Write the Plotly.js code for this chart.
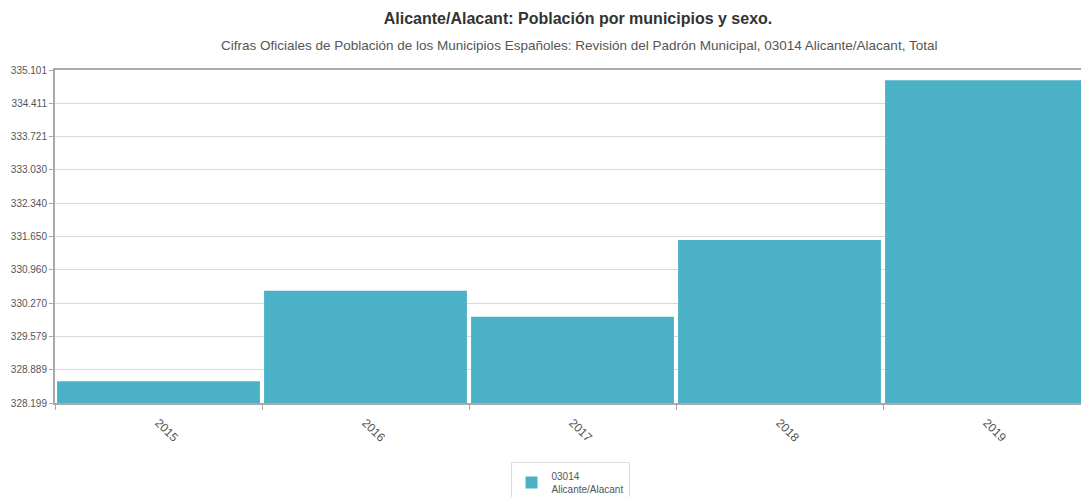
<!DOCTYPE html>
<html>
<head>
<meta charset="utf-8">
<script src="https://cdn.plot.ly/plotly-3.0.1.min.js"></script>
<style>html,body{margin:0;padding:0;background:#fff;overflow:hidden;}#chart{width:1081px;height:515px;}</style>
</head>
<body>
<div id="chart"></div>
<script>
const years = ["2015", "2016", "2017", "2018", "2019"];
const population = [328648, 330525, 329988, 331577, 334887];
const yTickValues = [328199, 328889, 329579, 330270, 330960, 331650, 332340, 333030, 333721, 334411, 335101];
const yTickLabels = ["328.199", "328.889", "329.579", "330.270", "330.960", "331.650", "332.340", "333.030", "333.721", "334.411", "335.101"];
const seriesName = "03014<br>Alicante/Alacant";
const titleText = "Alicante/Alacant: Población por municipios y sexo.";
const subtitleText = "Cifras Oficiales de Población de los Municipios Españoles: Revisión del Padrón Municipal, 03014 Alicante/Alacant, Total";

const FONT = "'Liberation Sans Narrow', 'Arial Narrow', 'Liberation Sans', Arial, sans-serif";
const H = 515;

const trace = {
  type: "bar",
  x: years,
  y: population,
  name: seriesName,
  marker: {color: "#4BB1C6", line: {width: 0}},
  showlegend: true
};

const layout = {
  width: 1081,
  height: H,
  margin: {l: 55, r: 0, t: 70, b: H - 403},
  paper_bgcolor: "#ffffff",
  plot_bgcolor: "#ffffff",
  font: {family: FONT, color: "#555555", size: 11},
  bargap: 0.02,
  title: {
    text: "<b>" + titleText + "</b>",
    font: {family: FONT, size: 16, color: "#333333"},
    x: (578 - 55) / 1026, xanchor: "center", xref: "paper",
    yref: "container", y: 1 - 18 / H, yanchor: "middle"
  },
  annotations: [{
    text: subtitleText,
    xref: "paper", yref: "paper",
    x: (579 - 55) / 1026, y: 1.0 + (70 - 45) / 333,
    xanchor: "center", yanchor: "middle",
    showarrow: false,
    font: {family: FONT, size: 13.5, color: "#555555"}
  }],
  xaxis: {
    type: "category",
    range: [-0.5, -0.5 + 1026 / 207],
    tickangle: 45,
    ticks: "outside",
    tickson: "boundaries",
    ticklen: 5,
    tickcolor: "#aaaaaa",
    ticklabelstandoff: 6,
    showline: true,
    linecolor: "#aaaaaa",
    linewidth: 2,
    mirror: true,
    showgrid: false,
    tickfont: {family: FONT, size: 12, color: "#555555"},
    fixedrange: true
  },
  yaxis: {
    range: [yTickValues[0], yTickValues[yTickValues.length - 1]],
    tickmode: "array",
    tickvals: yTickValues,
    ticktext: yTickLabels,
    ticks: "outside",
    ticklen: 4,
    tickcolor: "#aaaaaa",
    showline: true,
    linecolor: "#aaaaaa",
    linewidth: 2,
    showgrid: true,
    gridcolor: "#d9d9d9",
    gridwidth: 1,
    zeroline: false,
    tickfont: {family: FONT, size: 10, color: "#555555"},
    fixedrange: true
  },
  showlegend: true,
  legend: {
    x: (570 - 55) / 1026, xanchor: "center",
    y: (403 - 462) / 333, yanchor: "top",
    bordercolor: "#dddddd", borderwidth: 1,
    bgcolor: "#ffffff",
    font: {family: FONT, size: 10, color: "#555555"},
    itemwidth: 30
  }
};

Plotly.newPlot("chart", [trace], layout, {displayModeBar: false, staticPlot: true});
</script>
</body>
</html>
